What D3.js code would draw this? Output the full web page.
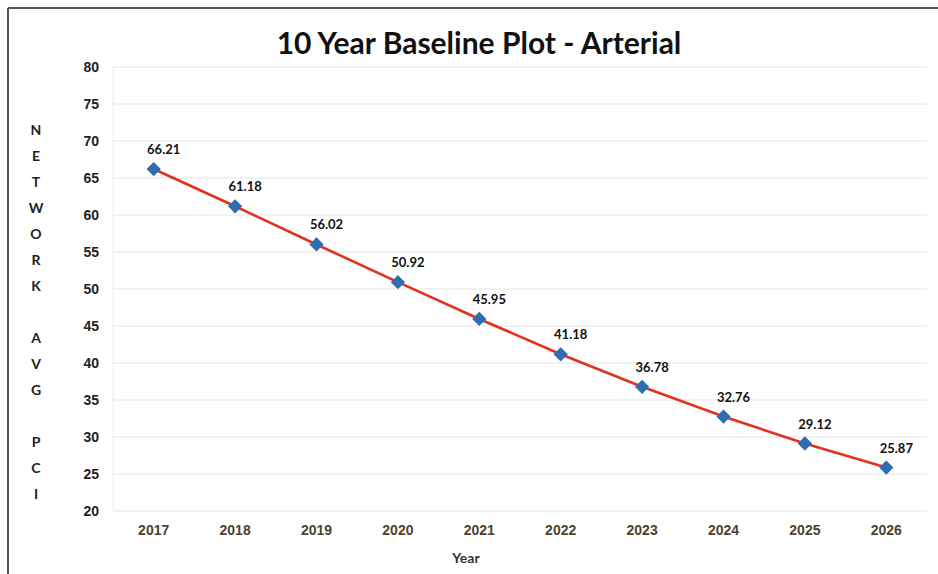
<!DOCTYPE html>
<html>
<head>
<meta charset="utf-8">
<script src="https://cdn.jsdelivr.net/npm/d3@7/dist/d3.min.js"></script>
<style>
  body { margin: 0; background: #fff; }
  svg { font-family: Lato, "Open Sans", sans-serif; }
</style>
</head>
<body>
<div class="chart"></div>
<script>
let years = ['2017', '2018', '2019', '2020', '2021', '2022', '2023', '2024', '2025', '2026'];
let pci = [66.21, 61.18, 56.02, 50.92, 45.95, 41.18, 36.78, 32.76, 29.12, 25.87];
let yTicks = [20, 25, 30, 35, 40, 45, 50, 55, 60, 65, 70, 75, 80];
let yTitle = ['N', 'E', 'T', 'W', 'O', 'R', 'K', '', 'A', 'V', 'G', '', 'P', 'C', 'I'];

let width = 938, height = 574;
let margin = { top: 67, right: 11, bottom: 63, left: 113 };

let svg = d3
  .select('.chart')
  .append('svg')
  .attr('width', width)
  .attr('height', height);

// frame from the scan (top and left edges only)
svg.append('line').attr('x1', 8).attr('x2', width).attr('y1', 8).attr('y2', 8)
  .attr('stroke', '#555').attr('stroke-width', 2);
svg.append('line').attr('x1', 8).attr('x2', 8).attr('y1', 8).attr('y2', height)
  .attr('stroke', '#555').attr('stroke-width', 2);

let x = d3.scaleBand()
  .domain(years)
  .range([margin.left, width - margin.right]);

let y = d3.scaleLinear()
  .domain([20, 80])
  .range([height - margin.bottom, margin.top]);

// gridlines
svg.append('g')
  .selectAll('line')
  .data(yTicks)
  .enter()
  .append('line')
  .attr('x1', margin.left)
  .attr('x2', width - margin.right)
  .attr('y1', d => y(d))
  .attr('y2', d => y(d))
  .attr('stroke', '#e4e4e4')
  .attr('stroke-width', 1);

svg.append('line')
  .attr('x1', margin.left).attr('x2', margin.left)
  .attr('y1', y(80)).attr('y2', y(20))
  .attr('stroke', '#ececec');

// y axis
let yAxis = svg.append('g')
  .attr('transform', `translate(${margin.left - 14},0)`)
  .call(d3.axisLeft(y).tickValues(yTicks).tickSize(0).tickPadding(0));
yAxis.select('.domain').remove();
yAxis.selectAll('text')
  .attr('fill', '#222')
  .style('font-size', '14px')
  .style('font-weight', 'bold');

// x axis
let xAxis = svg.append('g')
  .attr('transform', `translate(0,${y(20) + 14})`)
  .call(d3.axisBottom(x).tickSize(0).tickPadding(0));
xAxis.select('.domain').remove();
xAxis.selectAll('text')
  .attr('fill', '#4f432b')
  .style('font-size', '14px')
  .style('font-weight', 'bold');

// title
svg.append('text')
  .attr('x', 479)
  .attr('y', 54)
  .attr('text-anchor', 'middle')
  .attr('fill', '#111')
  .style('font-size', '30px')
  .style('font-weight', 'bold')
  .text('10 Year Baseline Plot - Arterial');

svg.append('text')
  .attr('x', 466)
  .attr('y', 563)
  .attr('text-anchor', 'middle')
  .attr('fill', '#333')
  .style('font-size', '14px')
  .style('font-weight', 'bold')
  .text('Year');

// stacked vertical axis title
svg.append('g')
  .selectAll('text')
  .data(yTitle)
  .enter()
  .append('text')
  .attr('x', 36)
  .attr('y', (d, i) => 135 + i * 26)
  .attr('text-anchor', 'middle')
  .attr('fill', '#222')
  .style('font-size', '14px')
  .style('font-weight', 'bold')
  .text(d => d);

let cx = (d, i) => x(years[i]) + x.bandwidth() / 2;

let line = d3.line()
  .x((d, i) => cx(d, i))
  .y(d => y(d));

svg.append('path')
  .datum(pci)
  .attr('d', line)
  .attr('fill', 'none')
  .attr('stroke', '#e2321f')
  .attr('stroke-width', 2.6);

svg.append('g')
  .selectAll('path')
  .data(pci)
  .enter()
  .append('path')
  .attr('d', d3.symbol().type(d3.symbolDiamond2).size(130))
  .attr('transform', (d, i) => `translate(${cx(d, i)},${y(d)})`)
  .attr('fill', '#2f6db3');

svg.append('g')
  .selectAll('text')
  .data(pci)
  .enter()
  .append('text')
  .attr('x', (d, i) => cx(d, i) + 10)
  .attr('y', d => y(d) - 15)
  .attr('text-anchor', 'middle')
  .attr('fill', '#111')
  .style('font-size', '13px')
  .style('font-weight', 'bold')
  .text(d => d.toFixed(2));
</script>
</body>
</html>
